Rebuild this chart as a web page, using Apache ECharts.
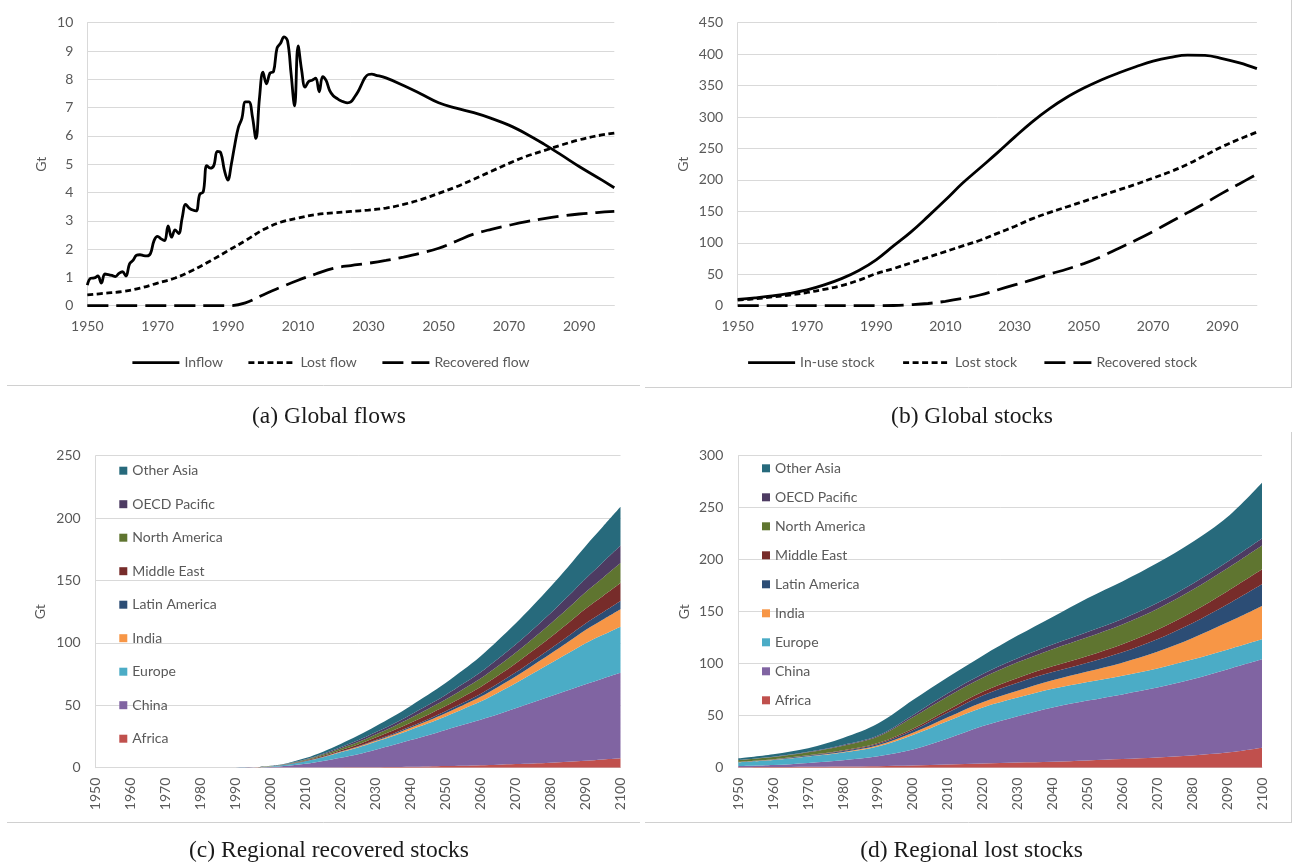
<!DOCTYPE html>
<html><head><meta charset="utf-8">
<script src="https://cdn.jsdelivr.net/npm/echarts@6/dist/echarts.min.js"></script>
<style>html,body{margin:0;padding:0;background:#fff}#c{width:1293px;height:868px}</style>
</head><body><div id="c"></div>
<script>
// ---------- (a) Global flows ----------
const inflowYears = [1950,1951,1952,1953,1954,1955,1956,1957,1958,1959,1960,1961,1962,1963,1964,1965,1966,1967,1968,1969,
  1970,1971,1972,1973,1974,1975,1976,1977,1978,1979,1980,1981,1982,1983,1984,1985,1986,1987,1988,1989,
  1990,1991,1992,1993,1994,1995,1996,1997,1998,1999,2000,2001,2002,2003,2004,2005,2006,2007,2008,2009,
  2010,2011,2012,2013,2014,2015,2016,2017,2018,2019,2020,2021,2022,2023,2024,2025,2026,2027,2028,2029,
  2030,2031,2032,2035,2040,2045,2050,2055,2060,2065,2070,2075,2080,2085,2090,2095,2100];
const inflow = [0.73,0.97,0.98,1.05,0.80,1.12,1.10,1.07,1.03,1.14,1.20,1.05,1.47,1.60,1.78,1.80,1.77,1.76,1.85,2.30,
  2.45,2.36,2.30,2.82,2.42,2.68,2.55,3.10,3.58,3.45,3.38,3.35,3.94,4.02,4.95,4.86,4.95,5.45,5.40,4.80,
  4.44,5.00,5.70,6.30,6.62,7.20,7.20,6.68,5.91,7.33,8.25,7.84,8.22,8.27,9.10,9.27,9.50,9.35,8.20,7.06,
  9.18,8.33,7.72,7.92,7.97,8.04,7.56,8.09,7.95,7.60,7.42,7.33,7.25,7.20,7.17,7.20,7.36,7.55,7.80,8.05,
  8.17,8.18,8.15,8.05,7.78,7.48,7.17,6.98,6.82,6.62,6.38,6.07,5.71,5.32,4.92,4.55,4.17];
const years5 = [1950,1955,1960,1965,1970,1975,1980,1985,1990,1995,2000,2005,2010,2015,2020,2025,2030,
  2035,2040,2045,2050,2055,2060,2065,2070,2075,2080,2085,2090,2095,2100];
const lostFlow = [0.38,0.44,0.50,0.62,0.80,0.98,1.25,1.58,1.94,2.30,2.68,2.95,3.10,3.22,3.28,3.33,3.38,
  3.45,3.58,3.75,3.97,4.20,4.47,4.75,5.03,5.28,5.48,5.68,5.86,6.00,6.10];
const recoveredFlow = [0,0,0,0,0,0,0,0,0,0.10,0.38,0.65,0.90,1.12,1.32,1.42,1.50,
  1.60,1.72,1.86,2.03,2.28,2.53,2.70,2.84,2.97,3.08,3.17,3.24,3.29,3.33];

// ---------- (b) Global stocks ----------
const inUseStock = [10,12.5,15.5,19.5,25,33,43,56,73,95,117,142,168,195,219,243,268,
  292,313,331,346,359,370,380,389,395,398.5,398,393,386,377];
const lostStock = [9,11,14,17,21,26,32,40.5,51,59,68,77,86,95,104,115,126,
  138,148,157,166,175,184,193,203,213,225,239,253,265,276];
const recoveredStock = [0,0,0,0,0,0,0,0,0,0.3,1.5,3.5,7,11.5,17,25,33,
  41,50,58,67,78,91,104,118,133,148,163,179,194,209];

// ---------- (c) Regional recovered stocks (5-year, years5) ----------
const regionNames = ['Africa','China','Europe','India','Latin America','Middle East','North America','OECD Pacific','Other Asia'];
const regionColors = ['#C0504D','#8064A2','#4BACC6','#F79646','#2C4D75','#772C2A','#5F7530','#4D3B62','#276A7C'];
const recAfrica = [0,0,0,0,0,0,0,0,0,0,0.05,0.1,0.15,0.2,0.25,0.35,0.45,0.6,0.8,1.0,1.3,1.6,2.0,2.4,2.9,3.4,4.0,4.7,5.5,6.5,7.5];
const recChina  = [0,0,0,0,0,0,0,0,0,0.1,0.6,1.5,3.0,5.2,7.8,10.5,14,17.5,21.3,25,29,32.8,36.5,40.5,44.7,49,53.2,57.3,61.3,65,68.5];
const recEurope = [0,0,0,0,0,0,0,0,0,0.05,0.4,1.0,2.0,3.0,4.3,5.3,6.3,7.3,8.4,9.6,10.8,12.6,14.5,17.2,20,23.2,26.4,29.7,33,35,37];
const recIndia  = [0,0,0,0,0,0,0,0,0,0,0.02,0.05,0.1,0.2,0.35,0.55,0.8,1.1,1.5,2.0,2.5,3.1,3.8,4.6,5.5,6.5,7.7,9.0,10.5,12.2,14];
const recLatin  = [0,0,0,0,0,0,0,0,0,0,0.02,0.05,0.1,0.2,0.3,0.45,0.6,0.8,1.0,1.3,1.6,1.9,2.3,2.7,3.1,3.6,4.1,4.7,5.3,5.9,6.6];
const recMidEast= [0,0,0,0,0,0,0,0,0,0,0.08,0.2,0.4,0.7,1.0,1.5,2.0,2.5,3.0,3.6,4.2,4.9,5.6,6.4,7.3,8.2,9.2,10.4,11.7,13,14.4];
const recNorthAm= [0,0,0,0,0,0,0,0,0,0.02,0.12,0.3,0.6,1.0,1.4,1.9,2.5,3.1,3.8,4.5,5.2,6.0,6.8,7.7,8.6,9.6,10.7,11.9,13.2,14.6,16];
const recOECD   = [0,0,0,0,0,0,0,0,0,0.02,0.1,0.25,0.45,0.7,1.0,1.4,1.8,2.2,2.7,3.2,3.7,4.3,5.0,5.8,6.6,7.5,8.5,9.7,11.0,12.5,14];
const recOtherAs= [0,0,0,0,0,0,0,0,0,0.01,0.15,0.4,0.9,1.6,2.6,3.8,4.8,5.9,7.0,8.2,9.5,11,12.8,14.8,16.8,19,21.2,23.5,26,28.5,31];

// ---------- (d) Regional lost stocks (10-year) ----------
const years10 = [1950,1960,1970,1980,1990,2000,2010,2020,2030,2040,2050,2060,2070,2080,2090,2100];
const lostAfrica = [0.4,0.6,0.9,1.2,1.5,2,3,4,5,5.8,7,8.3,9.8,11.8,14.5,19.2];
const lostChina  = [1.2,2.0,3.7,6.0,9.5,15.5,25,36,44.5,52.2,57.5,62.2,67.2,73.2,80,85];
const lostEurope = [3.6,4.8,6.2,7.5,9.5,14,17,18,18,18,18,18,18.5,19,19,19.3];
const lostIndia  = [0.1,0.2,0.3,0.5,1.0,2.0,3.5,5,6.5,8,10,12.5,16,20.5,26,32];
const lostLatin  = [0.3,0.4,0.6,0.9,1.3,2.5,4.5,6.5,7.8,8,8.5,10,12,14.5,17.5,21];
const lostMidEast= [0.1,0.2,0.3,0.6,1.0,1.5,2.5,3.5,4.5,5.5,6.5,7.8,9.2,10.8,12.5,14.2];
const lostNorthAm= [1.5,2.0,2.8,4.5,6.2,11,13,13.5,15,16.5,18,19,20,21,22,23];
const lostOECD   = [0.3,0.4,0.5,0.7,0.9,2,3,3.6,4,4.5,5,5.3,5.6,5.9,6.2,6.6];
const lostOtherAs= [1.5,2.4,3.4,6.6,11.5,14.5,15.5,17.6,21.7,26.5,32.5,36,38.5,40,43,53.7];

const recRegions  = [recAfrica,recChina,recEurope,recIndia,recLatin,recMidEast,recNorthAm,recOECD,recOtherAs];
const lostRegions = [lostAfrica,lostChina,lostEurope,lostIndia,lostLatin,lostMidEast,lostNorthAm,lostOECD,lostOtherAs];

const FONT = 'Lato';
const GRAY = '#595959';
const GRIDC = '#d9d9d9';
const pairs = (xs, ys) => xs.map((x, i) => [x, ys[i]]);

function xValueAxis(gi) {
  return {
    gridIndex: gi, type: 'value', min: 1950, max: 2100, interval: 20,
    axisLine: { show: true, onZero: false, lineStyle: { color: GRIDC, width: 1 } },
    axisTick: { show: false }, splitLine: { show: false },
    axisLabel: { margin: 14, color: GRAY, fontFamily: FONT, fontSize: 14, showMaxLabel: false,
                 formatter: v => String(v) }
  };
}
function xCatAxis(gi, cats, labelInterval) {
  return {
    gridIndex: gi, type: 'category', data: cats.map(String), boundaryGap: false,
    axisLine: { show: true, onZero: false, lineStyle: { color: GRIDC, width: 1 } },
    axisTick: { show: false }, splitLine: { show: false },
    axisLabel: { rotate: 90, margin: 10, interval: labelInterval, color: GRAY, fontFamily: FONT, fontSize: 14 }
  };
}
function yAxisOf(gi, max, interval, gap, margin) {
  return {
    gridIndex: gi, type: 'value', min: 0, max: max, interval: interval,
    name: 'Gt', nameLocation: 'middle', nameGap: gap,
    nameTextStyle: { color: GRAY, fontFamily: FONT, fontSize: 14 },
    axisLine: { show: true, lineStyle: { color: GRIDC, width: 1 } },
    axisTick: { show: false },
    splitLine: { show: true, lineStyle: { color: GRIDC, width: 1 } },
    axisLabel: { color: GRAY, fontFamily: FONT, fontSize: 14, margin: margin }
  };
}
function lineSeries(name, gi, xs, ys, dash) {
  return {
    type: 'line', name: name, xAxisIndex: gi, yAxisIndex: gi,
    data: pairs(xs, ys), smooth: 0.4, symbol: 'none',
    lineStyle: { color: '#000', width: 2.8, type: dash, cap: 'butt' },
    itemStyle: { color: '#000' }, silent: true
  };
}
function areaSeries(name, color, gi, ys, stackName) {
  return {
    type: 'line', name: name, xAxisIndex: gi, yAxisIndex: gi, stack: stackName,
    data: ys, smooth: 0.35, symbol: 'none',
    lineStyle: { width: 0, color: color }, itemStyle: { color: color },
    areaStyle: { color: color, opacity: 1 }, silent: true
  };
}
function lineLegend(name, left, top) {
  return {
    left: left, top: top, padding: 0, itemWidth: 47, itemHeight: 14, selectedMode: false,
    data: [name], lineStyle: { width: 2.8 }, itemStyle: { opacity: 0 },
    textStyle: { color: GRAY, fontFamily: FONT, fontSize: 14 }
  };
}
function regionLegend(left, top, gap) {
  return {
    orient: 'vertical', left: left, top: top, padding: 0, itemWidth: 8, itemHeight: 8,
    itemGap: gap, selectedMode: false, icon: 'rect',
    data: regionNames.slice().reverse(),
    textStyle: { color: GRAY, fontFamily: FONT, fontSize: 14, lineHeight: 16 }
  };
}

const series = [
  lineSeries('Inflow', 0, inflowYears, inflow, 'solid'),
  lineSeries('Lost flow', 0, years5, lostFlow, [6, 3.5]),
  lineSeries('Recovered flow', 0, years5, recoveredFlow, [21, 8]),
  lineSeries('In-use stock', 1, years5, inUseStock, 'solid'),
  lineSeries('Lost stock', 1, years5, lostStock, [6, 3.5]),
  lineSeries('Recovered stock', 1, years5, recoveredStock, [21, 8])
];
regionNames.forEach((n, i) => series.push(areaSeries(n, regionColors[i], 2, recRegions[i], 'rec')));
regionNames.forEach((n, i) => series.push(areaSeries(n, regionColors[i], 3, lostRegions[i], 'lost')));

const capFont = '23.5px "Liberation Serif", "Times New Roman", serif';
const border = '#d0d0d0';

const option = {
  animation: false,
  backgroundColor: '#fff',
  grid: [
    { left: 87.3, top: 22.7, width: 527, height: 283 },
    { left: 737.7, top: 22.7, width: 519.2, height: 283 },
    { left: 95.7, top: 455.7, width: 524.8, height: 312 },
    { left: 738.3, top: 455.7, width: 523.7, height: 312 }
  ],
  xAxis: [xValueAxis(0), xValueAxis(1), xCatAxis(2, years5, 1), xCatAxis(3, years10, 0)],
  yAxis: [yAxisOf(0, 10, 1, 39, 14), yAxisOf(1, 450, 50, 47, 14.5), yAxisOf(2, 250, 50, 48, 15), yAxisOf(3, 300, 50, 47, 15)],
  legend: [
    lineLegend('Inflow', 131, 355.7),
    lineLegend('Lost flow', 247, 355.7),
    lineLegend('Recovered flow', 381, 355.7),
    lineLegend('In-use stock', 746.7, 355.7),
    lineLegend('Lost stock', 901.7, 355.7),
    lineLegend('Recovered stock', 1043, 355.7),
    regionLegend(119.3, 462.7, 17.5),
    regionLegend(762, 460.3, 13)
  ],
  series: series,
  graphic: [
    { type: 'text', x: 329, y: 417, style: { text: '(a) Global flows', font: capFont, fill: '#1a1a1a', align: 'center', verticalAlign: 'middle' } },
    { type: 'text', x: 972, y: 417, style: { text: '(b) Global stocks', font: capFont, fill: '#1a1a1a', align: 'center', verticalAlign: 'middle' } },
    { type: 'text', x: 329, y: 851, style: { text: '(c) Regional recovered stocks', font: capFont, fill: '#1a1a1a', align: 'center', verticalAlign: 'middle' } },
    { type: 'text', x: 971.5, y: 851, style: { text: '(d) Regional lost stocks', font: capFont, fill: '#1a1a1a', align: 'center', verticalAlign: 'middle' } },
    { type: 'line', shape: { x1: 7, y1: 385.5, x2: 640, y2: 385.5 }, style: { stroke: border, lineWidth: 1 } },
    { type: 'line', shape: { x1: 645, y1: 387.5, x2: 1292, y2: 387.5 }, style: { stroke: border, lineWidth: 1 } },
    { type: 'line', shape: { x1: 1291.5, y1: 0, x2: 1291.5, y2: 387.5 }, style: { stroke: border, lineWidth: 1 } },
    { type: 'line', shape: { x1: 7, y1: 822.5, x2: 640, y2: 822.5 }, style: { stroke: border, lineWidth: 1 } },
    { type: 'line', shape: { x1: 645, y1: 822.5, x2: 1292, y2: 822.5 }, style: { stroke: border, lineWidth: 1 } },
    { type: 'line', shape: { x1: 1291.5, y1: 432, x2: 1291.5, y2: 822.5 }, style: { stroke: border, lineWidth: 1 } }
  ]
};
const chart = echarts.init(document.getElementById('c'), null, { renderer: 'canvas' });
chart.setOption(option);
</script>
</body></html>
